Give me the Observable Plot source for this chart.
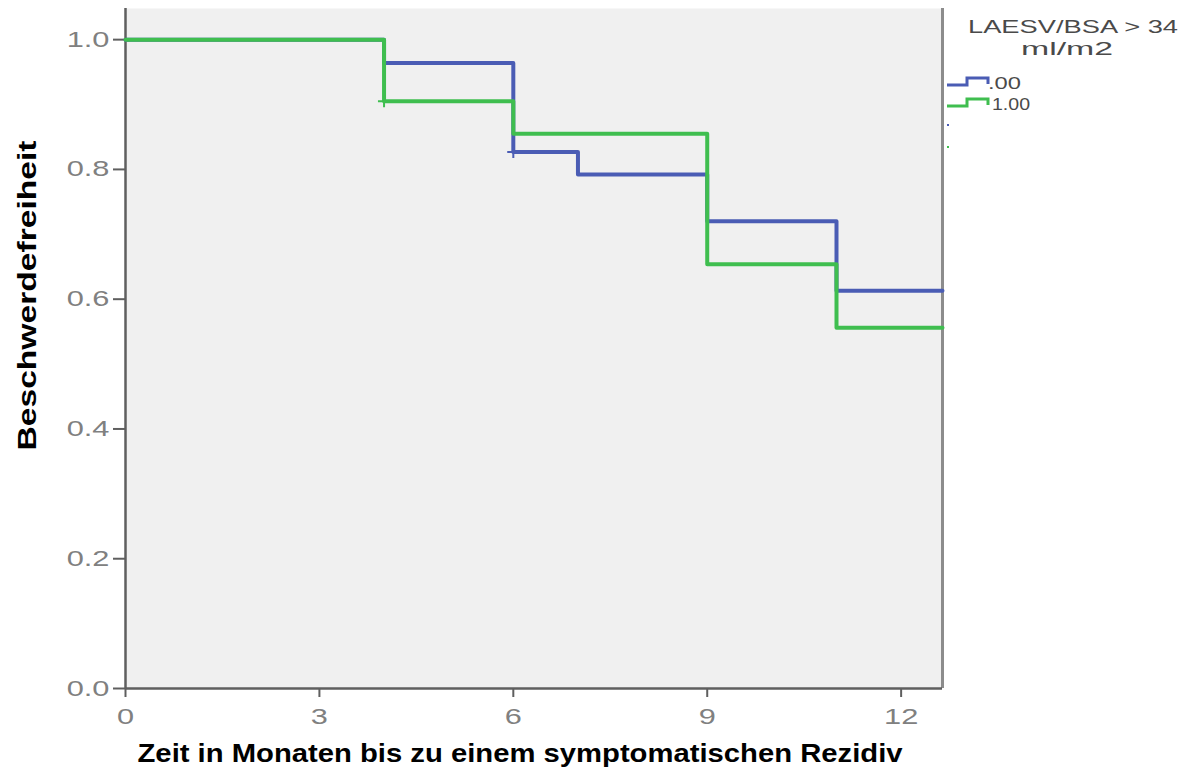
<!DOCTYPE html>
<html>
<head>
<meta charset="utf-8">
<script src="https://cdn.jsdelivr.net/npm/d3@7"></script>
<script src="https://cdn.jsdelivr.net/npm/@observablehq/plot@0.6"></script>
<style>
  html, body { margin: 0; padding: 0; background: #ffffff; }
  #wrap { display: flex; flex-direction: row; align-items: flex-start; width: 1187px; height: 773px; }
  #legend { width: 242px; }
  text { font-family: "Liberation Sans", Arial, sans-serif; }
</style>
</head>
<body>
<div id="wrap"><div id="chart"></div><div id="legend"></div></div>
<script>
// Kaplan-Meier estimates of symptom-free survival by LAESV/BSA group
const groups = [".00", "1.00"];
const groupColors = ["#4a5cb4", "#3fbe4f"];

const timeMax = 12.64;   // end of follow-up shown on the axis
const survMax = 1.048;

const timeLow = [0, 4, 6, 7, 9, 11, timeMax];
const survLow = [1.0, 0.964, 0.827, 0.792, 0.720, 0.613, 0.613];

const timeHigh = [0, 4, 6, 9, 11, timeMax];
const survHigh = [1.0, 0.905, 0.855, 0.654, 0.556, 0.556];

// censored observations
const censorTime = [6, 4];
const censorSurv = [0.827, 0.905];
const censorGroup = [".00", "1.00"];

const xTicks = [0, 3, 6, 9, 12];
const yTicks = [0, 0.2, 0.4, 0.6, 0.8, 1.0];

const xTitle = "Zeit in Monaten bis zu einem symptomatischen Rezidiv";
const yTitle = "Beschwerdefreiheit";
const legendTitle = ["LAESV/BSA > 34", "ml/m2"];

const rows = [
  ...timeLow.map((t, i) => ({time: t, surv: survLow[i], group: groups[0]})),
  ...timeHigh.map((t, i) => ({time: t, surv: survHigh[i], group: groups[1]}))
];
const censored = censorTime.map((t, i) => ({time: t, surv: censorSurv[i], group: censorGroup[i]}));

const axisColor = "#5f5f5f";
const labelColor = "#808080";

const chart = Plot.plot({
  width: 945,
  height: 773,
  marginLeft: 125,
  marginRight: 3,
  marginTop: 8,
  marginBottom: 85,
  style: {fontFamily: "'Liberation Sans', Arial, sans-serif", background: "#ffffff", overflow: "visible"},
  x: {domain: [0, timeMax], label: null},
  y: {domain: [0, survMax], label: null},
  color: {domain: groups, range: groupColors},
  marks: [
    Plot.frame({fill: "#f0f0f0", stroke: null}),
    Plot.axisY({ticks: yTicks, tickFormat: d3.format(".1f"), tickSize: 12, tickPadding: 4,
      fontSize: 22, stroke: axisColor, fill: labelColor, strokeWidth: 2, label: null}),
    Plot.axisX({ticks: xTicks, tickSize: 9, tickPadding: 11,
      fontSize: 22, stroke: axisColor, fill: labelColor, strokeWidth: 2, label: null}),
    Plot.ruleX([timeMax], {stroke: "#8c8c8c", strokeWidth: 3}),
    Plot.ruleX([0], {stroke: axisColor, strokeWidth: 2.5}),
    Plot.ruleY([0], {stroke: axisColor, strokeWidth: 2.5}),
    Plot.line(rows, {x: "time", y: "surv", z: "group", stroke: "group", curve: "step-after", strokeWidth: 4}),
    Plot.dot(censored, {x: "time", y: "surv", stroke: "group", symbol: "plus", r: 4, strokeWidth: 2}),
    Plot.text([xTitle], {frameAnchor: "bottom", dx: -14, dy: 65, lineAnchor: "middle", textAnchor: "middle",
      fontSize: 25, fontWeight: "bold", fill: "#000", className: "x-title"}),
    Plot.text([yTitle], {frameAnchor: "left", dx: -98, dy: -53, rotate: -90, lineAnchor: "middle", textAnchor: "middle",
      fontSize: 25, fontWeight: "bold", fill: "#000", className: "y-title"})
  ]
});
document.getElementById("chart").appendChild(chart);

// widen text runs to the rendered proportions
function stretch(sel, factor) {
  chart.querySelectorAll(sel).forEach(t => {
    const w = t.getComputedTextLength();
    t.setAttribute("textLength", (w * factor).toFixed(1));
    t.setAttribute("lengthAdjust", "spacingAndGlyphs");
  });
}
function fit(sel, length) {
  chart.querySelectorAll(sel).forEach(t => {
    t.setAttribute("textLength", length);
    t.setAttribute("lengthAdjust", "spacingAndGlyphs");
  });
}
stretch('g[aria-label="y-axis tick label"] text', 1.4);
stretch('g[aria-label="x-axis tick label"] text', 1.4);
fit('.x-title text', 765);
fit('.y-title text', 310);

// legend
const lg = d3.select("#legend").append("svg").attr("width", 242).attr("height", 170);
lg.selectAll("text.title").data(legendTitle).join("text")
  .attr("class", "title")
  .attr("x", (d, i) => i === 0 ? 128 : 122)
  .attr("y", (d, i) => i === 0 ? 33 : 55)
  .attr("text-anchor", "middle")
  .attr("font-size", 18)
  .attr("fill", "#4a4a4a")
  .attr("textLength", (d, i) => i === 0 ? 210 : 92)
  .attr("lengthAdjust", "spacingAndGlyphs")
  .text(d => d);

const itemY = [85, 106];
const itemLen = [33, 38];
groups.forEach((g, i) => {
  const y = itemY[i];
  lg.append("path")
    .attr("d", `M2,${y} H22 V${y - 7} H43 V${y - 1}`)
    .attr("fill", "none")
    .attr("stroke", groupColors[i])
    .attr("stroke-width", 3);
  lg.append("text")
    .attr("x", i === 0 ? 43 : 47)
    .attr("y", y + 4)
    .attr("font-size", 17)
    .attr("fill", "#4a4a4a")
    .attr("textLength", itemLen[i])
    .attr("lengthAdjust", "spacingAndGlyphs")
    .text(g);
  lg.append("rect")
    .attr("x", 2).attr("y", 124 + i * 22)
    .attr("width", 2).attr("height", 2)
    .attr("fill", groupColors[i]);
});
</script>
</body>
</html>
